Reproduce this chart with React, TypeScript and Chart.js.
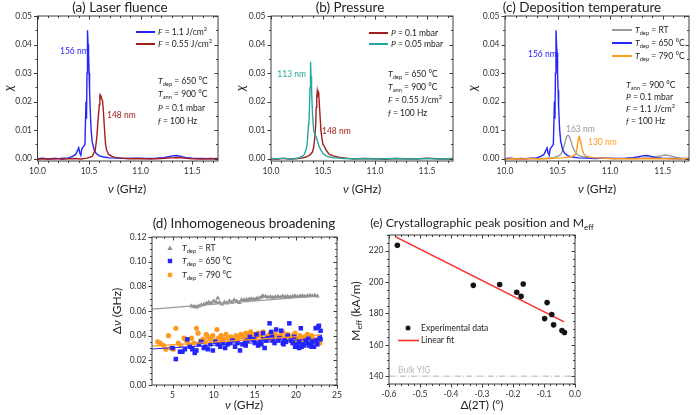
import React, { useEffect, useRef } from "react";
import { Chart, registerables } from "chart.js";
Chart.register(...registerables);

const W = 697;
const H = 415;
const FONT = "Lato, 'Open Sans', 'DejaVu Sans', sans-serif";
Chart.defaults.font.family = FONT;

// ---------------- DATA ----------------
// (a) Laser fluence — F = 1.1 J/cm² (also T_dep = 650 °C in (c))
const nuF11 = [10.0, 10.05, 10.1, 10.15, 10.2, 10.25, 10.3, 10.34, 10.37, 10.39, 10.4, 10.41, 10.42, 10.43, 10.44, 10.45, 10.46, 10.47, 10.475, 10.48, 10.485, 10.49, 10.495, 10.5, 10.505, 10.51, 10.52, 10.53, 10.55, 10.57, 10.6, 10.64, 10.7, 10.78, 10.86, 10.95, 11.05, 11.15, 11.22, 11.27, 11.31, 11.35, 11.39, 11.44, 11.5, 11.58, 11.66, 11.75];
const chiF11 = [0.0, 0.0002, -0.0001, 0.0001, 0.0, 0.0002, 0.0003, 0.0008, 0.0015, 0.003, 0.0038, 0.002, 0.0012, 0.0035, 0.004, 0.0045, 0.005, 0.02, 0.014, 0.03, 0.045, 0.04, 0.037, 0.03, 0.024, 0.018, 0.01, 0.006, 0.003, 0.0018, 0.001, 0.0006, 0.0003, 0.0002, 0.0001, 0.0002, 0.0001, 0.0002, 0.0004, 0.0007, 0.001, 0.0011, 0.0008, 0.0004, 0.0002, 0.0001, 0.0, 0.0001];
// F = 0.55 J/cm²
const nuF055 = [10.0, 10.06, 10.12, 10.18, 10.24, 10.3, 10.36, 10.42, 10.48, 10.53, 10.56, 10.575, 10.59, 10.6, 10.605, 10.61, 10.615, 10.62, 10.63, 10.64, 10.65, 10.66, 10.67, 10.69, 10.72, 10.76, 10.82, 10.9, 11.0, 11.1, 11.2, 11.3, 11.36, 11.42, 11.5, 11.6, 11.68, 11.75];
const chiF055 = [-0.0002, 0.0, -0.0001, 0.0001, -0.0002, 0.0, 0.0001, -0.0001, 0.0002, 0.0008, 0.003, 0.0075, 0.015, 0.019, 0.0228, 0.0215, 0.0222, 0.021, 0.0205, 0.016, 0.01, 0.005, 0.003, 0.0015, 0.0008, 0.0004, 0.0002, 0.0, 0.0001, -0.0001, 0.0001, 0.0003, 0.0004, 0.0002, 0.0, -0.0001, 0.0001, -0.0002];

// (b) Pressure — P = 0.1 mbar
const nuP01 = [10.0, 10.06, 10.12, 10.18, 10.24, 10.29, 10.33, 10.36, 10.38, 10.4, 10.41, 10.42, 10.43, 10.435, 10.44, 10.445, 10.45, 10.455, 10.46, 10.47, 10.48, 10.49, 10.5, 10.51, 10.53, 10.56, 10.6, 10.65, 10.72, 10.8, 10.9, 11.0, 11.1, 11.2, 11.3, 11.4, 11.5, 11.6, 11.68, 11.75];
const chiP01 = [0.0, -0.0002, 0.0001, -0.0001, 0.0, 0.0002, 0.0005, 0.001, 0.0015, 0.0025, 0.004, 0.007, 0.012, 0.018, 0.0215, 0.0237, 0.0225, 0.0232, 0.022, 0.016, 0.01, 0.007, 0.005, 0.0045, 0.003, 0.0015, 0.001, 0.0005, 0.0002, -0.0001, 0.0001, 0.0, -0.0002, 0.0001, 0.0, -0.0001, 0.0002, 0.0, -0.0001, 0.0];
// P = 0.05 mbar
const nuP005 = [10.0, 10.06, 10.12, 10.18, 10.23, 10.27, 10.3, 10.32, 10.34, 10.35, 10.36, 10.365, 10.37, 10.375, 10.38, 10.385, 10.39, 10.4, 10.41, 10.42, 10.43, 10.44, 10.46, 10.48, 10.5, 10.53, 10.57, 10.62, 10.7, 10.8, 10.9, 11.0, 11.1, 11.2, 11.3, 11.4, 11.5, 11.6, 11.68, 11.75];
const chiP005 = [0.0001, 0.0, 0.0002, -0.0001, 0.0001, 0.0003, 0.0008, 0.0015, 0.0035, 0.006, 0.012, 0.013, 0.018, 0.025, 0.034, 0.029, 0.024, 0.015, 0.01, 0.0085, 0.008, 0.007, 0.0045, 0.003, 0.0018, 0.001, 0.0005, 0.0003, 0.0001, 0.0, 0.0001, -0.0001, 0.0, 0.0001, -0.0001, 0.0, 0.0001, -0.0001, 0.0, 0.0001];

// (c) Deposition temperature — T_dep = RT
const nuRT = [10.0, 10.08, 10.16, 10.24, 10.32, 10.4, 10.46, 10.5, 10.53, 10.55, 10.57, 10.58, 10.59, 10.6, 10.61, 10.62, 10.63, 10.64, 10.66, 10.68, 10.7, 10.73, 10.77, 10.82, 10.9, 11.0, 11.1, 11.2, 11.3, 11.38, 11.44, 11.49, 11.53, 11.57, 11.62, 11.68, 11.75];
const chiRT = [0.0, 0.0001, 0.0, 0.0001, 0.0001, 0.0002, 0.0004, 0.0008, 0.0015, 0.003, 0.0055, 0.007, 0.008, 0.0082, 0.0079, 0.007, 0.0058, 0.0045, 0.0028, 0.0018, 0.0012, 0.0008, 0.0005, 0.0003, 0.0002, 0.0001, 0.0001, 0.0002, 0.0002, 0.0004, 0.0007, 0.0011, 0.0013, 0.001, 0.0005, 0.0002, 0.0001];
// T_dep = 790 °C
const nuT790 = [10.0, 10.08, 10.16, 10.24, 10.32, 10.4, 10.48, 10.55, 10.6, 10.64, 10.67, 10.68, 10.69, 10.7, 10.705, 10.71, 10.72, 10.73, 10.74, 10.75, 10.77, 10.8, 10.85, 10.92, 11.0, 11.1, 11.2, 11.3, 11.4, 11.5, 11.6, 11.68, 11.75];
const chiT790 = [-0.0002, 0.0, -0.0001, 0.0001, -0.0001, 0.0, 0.0002, 0.0003, 0.0005, 0.0008, 0.0015, 0.0025, 0.005, 0.0072, 0.0077, 0.007, 0.006, 0.004, 0.0025, 0.0016, 0.001, 0.0006, 0.0003, 0.0002, 0.0001, 0.0, -0.0001, 0.0, 0.0001, 0.0, -0.0001, 0.0, 0.0001];

// (d) Inhomogeneous broadening
const nuDRT = [7.3, 7.6, 7.9, 8.2, 8.5, 8.8, 9.1, 9.4, 9.7, 10.0, 10.3, 10.5, 10.7, 11.0, 11.3, 11.6, 11.9, 12.2, 12.5, 12.8, 13.1, 13.4, 13.7, 14.0, 14.3, 14.6, 14.9, 15.2, 15.5, 15.8, 16.0, 16.3, 16.6, 16.9, 17.2, 17.5, 17.8, 18.1, 18.4, 18.7, 19.0, 19.3, 19.6, 19.9, 20.2, 20.5, 20.8, 21.1, 21.4, 21.7, 22.0, 22.3, 22.6];
const dnuDRT = [0.064, 0.0636, 0.0632, 0.064, 0.0648, 0.0652, 0.066, 0.067, 0.0665, 0.068, 0.0672, 0.0705, 0.0668, 0.0655, 0.067, 0.0665, 0.068, 0.067, 0.0688, 0.0678, 0.0668, 0.069, 0.0688, 0.0692, 0.0695, 0.0698, 0.0694, 0.07, 0.0705, 0.0712, 0.0722, 0.0718, 0.0712, 0.0716, 0.071, 0.0714, 0.0718, 0.0712, 0.072, 0.0716, 0.0718, 0.0714, 0.0718, 0.0722, 0.0716, 0.072, 0.0724, 0.0718, 0.0722, 0.0726, 0.0722, 0.0726, 0.072];
const nuD650 = [5.0, 5.4, 5.9, 6.2, 6.5, 6.8, 7.1, 7.4, 7.7, 7.9, 8.2, 8.5, 8.8, 9.0, 9.3, 9.6, 9.9, 10.2, 10.5, 10.8, 11.1, 11.4, 11.7, 12.0, 12.3, 12.6, 12.9, 13.2, 13.5, 13.8, 14.1, 14.4, 14.7, 15.0, 15.2, 15.4, 15.6, 15.8, 16.0, 16.2, 16.4, 16.6, 16.8, 17.0, 17.2, 17.4, 17.6, 17.8, 18.0, 18.2, 18.4, 18.6, 18.8, 19.0, 19.2, 19.4, 19.6, 19.8, 20.0, 20.2, 20.4, 20.6, 20.8, 21.0, 21.2, 21.4, 21.6, 21.8, 22.0, 22.2, 22.4, 22.6, 22.8, 23.0, 23.0, 22.9, 21.5, 20.7, 19.9, 18.5, 17.1, 16.0, 14.9, 13.9, 20.4, 21.9, 22.5, 22.7];
const dnuD650 = [0.03, 0.021, 0.027, 0.027, 0.029, 0.037, 0.031, 0.029, 0.026, 0.028, 0.033, 0.035, 0.03, 0.031, 0.029, 0.033, 0.028, 0.035, 0.033, 0.031, 0.034, 0.03, 0.033, 0.034, 0.036, 0.031, 0.034, 0.028, 0.033, 0.035, 0.036, 0.039, 0.037, 0.034, 0.041, 0.032, 0.035, 0.033, 0.037, 0.03, 0.036, 0.038, 0.05, 0.043, 0.036, 0.034, 0.045, 0.036, 0.038, 0.044, 0.034, 0.037, 0.035, 0.04, 0.05, 0.036, 0.034, 0.039, 0.033, 0.032, 0.035, 0.046, 0.033, 0.032, 0.036, 0.034, 0.032, 0.033, 0.035, 0.031, 0.046, 0.033, 0.048, 0.037, 0.044, 0.039, 0.038, 0.031, 0.031, 0.033, 0.039, 0.042, 0.037, 0.032, 0.03, 0.031, 0.036, 0.047];
const nuD790 = [3.2, 3.5, 3.9, 4.2, 4.5, 4.8, 5.1, 5.4, 5.7, 6.0, 6.4, 6.7, 7.0, 7.3, 7.6, 7.9, 8.1, 8.4, 8.7, 9.0, 9.3, 9.6, 9.9, 10.2, 10.4, 10.6, 10.9, 11.2, 11.5, 11.8, 12.1, 12.4, 12.7, 13.0, 13.3, 13.6, 13.9, 14.2, 14.5, 14.8, 15.1, 15.4, 15.7, 16.0, 16.3, 16.6, 16.9, 17.2, 17.5, 17.8, 18.1, 18.4, 18.7, 19.0, 19.3, 19.6, 19.9, 20.2, 20.5, 20.8, 21.1, 21.4, 21.7, 22.0, 22.3, 22.6, 22.9, 14.0, 15.0, 17.0, 18.8, 20.0, 21.9, 9.1, 11.0, 12.9];
const dnuD790 = [0.035, 0.034, 0.032, 0.029, 0.04, 0.03, 0.029, 0.046, 0.034, 0.032, 0.038, 0.036, 0.033, 0.038, 0.034, 0.046, 0.042, 0.036, 0.037, 0.035, 0.039, 0.037, 0.04, 0.036, 0.045, 0.038, 0.04, 0.037, 0.041, 0.038, 0.039, 0.037, 0.04, 0.038, 0.041, 0.039, 0.042, 0.04, 0.043, 0.041, 0.039, 0.042, 0.04, 0.043, 0.038, 0.04, 0.042, 0.039, 0.041, 0.038, 0.04, 0.043, 0.039, 0.041, 0.038, 0.04, 0.042, 0.038, 0.04, 0.037, 0.039, 0.041, 0.036, 0.038, 0.035, 0.037, 0.034, 0.038, 0.036, 0.037, 0.036, 0.036, 0.04, 0.041, 0.035, 0.036];
const fitNuRT = [2.5, 22.8];
const fitDnuRT = [0.0615, 0.0722];
const fitNu650 = [2.5, 23.0];
const fitDnu650 = [0.0292, 0.0375];
const fitNu790 = [2.5, 23.0];
const fitDnu790 = [0.0315, 0.0405];

// (e) Crystallographic peak position and M_eff
const d2T = [-0.573, -0.328, -0.243, -0.188, -0.174, -0.167, -0.09, -0.098, -0.075, -0.069, -0.042, -0.034];
const mEff = [223.4, 197.9, 198.4, 193.5, 190.9, 198.8, 186.9, 176.7, 179.3, 172.7, 169.1, 167.8];
const fitD2T = [-0.58, -0.035];
const fitMEff = [229.0, 174.6];
const bulkD2T = [-0.6, 0.0];
const bulkMEff = [140, 140];

// ---------------- STYLE ----------------
const BLUE = "#2424ff";
const DARKRED = "#a31d1d";
const TEAL = "#26a89e";
const GRAY = "#9a9a9a";
const ORANGE = "#ff9a1e";
const RED = "#ff2a2a";
const TXT = "#222";
const FRAME = "#3c3c3c";
const YW = 30;
const XH = 14;

const zip = (xs: number[], ys: number[]) => xs.map((x, i) => ({ x, y: ys[i] }));

type Seg = { t: string; it: boolean; mode: number };
function parseRich(s: string): Seg[] {
  const segs: Seg[] = [];
  let it = false;
  let buf = "";
  let i = 0;
  const flush = () => {
    if (buf) segs.push({ t: buf, it, mode: 0 });
    buf = "";
  };
  while (i < s.length) {
    const c = s[i];
    if (c === "*") {
      flush();
      it = !it;
      i++;
      continue;
    }
    if ((c === "_" || c === "^") && s[i + 1] === "{") {
      flush();
      const end = s.indexOf("}", i);
      segs.push({ t: s.slice(i + 2, end), it: false, mode: c === "_" ? 1 : 2 });
      i = end + 1;
      continue;
    }
    buf += c;
    i++;
  }
  flush();
  return segs;
}

type TextItem = { s: string; x: number; y: number; size?: number; color?: string; align?: string; rot?: number };
function drawRich(ctx: CanvasRenderingContext2D, t: TextItem) {
  const size = t.size ?? 8.5;
  const segs = parseRich(t.s);
  const fontFor = (g: Seg) => `${g.it ? "italic " : ""}${g.mode ? size * 0.68 : size}px ${FONT}`;
  let total = 0;
  const widths = segs.map((g) => {
    ctx.font = fontFor(g);
    const w = ctx.measureText(g.t).width;
    total += w;
    return w;
  });
  ctx.save();
  ctx.translate(t.x, t.y);
  if (t.rot) ctx.rotate(t.rot);
  let cx = t.align === "center" ? -total / 2 : t.align === "right" ? -total : 0;
  ctx.fillStyle = t.color ?? TXT;
  ctx.textBaseline = "middle";
  ctx.textAlign = "left";
  segs.forEach((g, k) => {
    ctx.font = fontFor(g);
    const dy = g.mode === 1 ? size * 0.32 : g.mode === 2 ? -size * 0.36 : 0;
    ctx.fillText(g.t, cx, dy);
    cx += widths[k];
  });
  ctx.restore();
}

type LegLine = { x1: number; x2: number; y: number; color: string; w?: number };
type LegMark = { x: number; y: number; color: string; shape: string; r: number };
type AxisSpec = { min: number; max: number; step: number; minor: number; dec: number };
type PanelSpec = {
  key: string;
  frame: { l: number; r: number; t: number; b: number };
  x: AxisSpec;
  y: AxisSpec;
  datasets: any[];
  texts: TextItem[];
  lines: LegLine[];
  marks: LegMark[];
};

function decor(p: PanelSpec) {
  return {
    id: "decor_" + p.key,
    afterDraw(chart: any) {
      const ctx: CanvasRenderingContext2D = chart.ctx;
      const { left, right, top, bottom } = chart.chartArea;
      const xs = chart.scales.x;
      const ys = chart.scales.y;
      ctx.save();
      ctx.strokeStyle = FRAME;
      ctx.lineWidth = 1;
      ctx.strokeRect(left, top, right - left, bottom - top);
      const seg = (x1: number, y1: number, x2: number, y2: number) => {
        ctx.beginPath();
        ctx.moveTo(x1, y1);
        ctx.lineTo(x2, y2);
        ctx.stroke();
      };
      const ticksFor = (a: AxisSpec, step: number) => {
        const out: number[] = [];
        const k0 = Math.ceil(a.min / step - 1e-6);
        const k1 = Math.floor(a.max / step + 1e-6);
        for (let k = k0; k <= k1; k++) out.push(k * step);
        return out;
      };
      [
        [p.x.step, 3.5],
        [p.x.minor, 2],
      ].forEach(([st, len]) => {
        ticksFor(p.x, st).forEach((v) => {
          const px = Math.round(xs.getPixelForValue(v)) + 0.5;
          seg(px, bottom, px, bottom + len);
          seg(px, top, px, top + len);
        });
      });
      [
        [p.y.step, 3.5],
        [p.y.minor, 2],
      ].forEach(([st, len]) => {
        ticksFor(p.y, st).forEach((v) => {
          const py = Math.round(ys.getPixelForValue(v)) + 0.5;
          seg(left - len, py, left, py);
          seg(right - len, py, right, py);
        });
      });
      p.lines.forEach((l) => {
        ctx.strokeStyle = l.color;
        ctx.lineWidth = l.w ?? 2;
        seg(l.x1, l.y, l.x2, l.y);
      });
      p.marks.forEach((m) => {
        ctx.fillStyle = m.color;
        ctx.beginPath();
        if (m.shape === "circle") {
          ctx.arc(m.x, m.y, m.r, 0, Math.PI * 2);
        } else if (m.shape === "rect") {
          ctx.rect(m.x - m.r, m.y - m.r, 2 * m.r, 2 * m.r);
        } else {
          ctx.moveTo(m.x, m.y - m.r);
          ctx.lineTo(m.x + m.r, m.y + m.r * 0.8);
          ctx.lineTo(m.x - m.r, m.y + m.r * 0.8);
          ctx.closePath();
        }
        ctx.fill();
      });
      p.texts.forEach((t) => drawRich(ctx, t));
      ctx.restore();
    },
  };
}

function axisOpts(a: AxisSpec, isX: boolean) {
  return {
    type: "linear",
    min: a.min,
    max: a.max,
    afterFit: (s: any) => {
      if (isX) s.height = XH;
      else s.width = YW;
    },
    grid: { display: true, drawOnChartArea: false, drawTicks: true, tickLength: 3.5, color: "rgba(0,0,0,0)" },
    border: { display: false },
    ticks: {
      stepSize: a.step,
      includeBounds: false,
      autoSkip: false,
      maxRotation: 0,
      padding: 2,
      color: "#333",
      font: { family: FONT, size: 8.5 },
      callback: (v: any) => Number(v).toFixed(a.dec),
    },
  };
}

function buildConfig(p: PanelSpec): any {
  const f = p.frame;
  return {
    type: "scatter",
    data: { datasets: p.datasets },
    options: {
      responsive: false,
      animation: false,
      devicePixelRatio: 1,
      events: [],
      layout: { padding: { left: f.l - YW, right: W - f.r, top: f.t, bottom: H - f.b - XH } },
      plugins: { legend: { display: false }, title: { display: false }, tooltip: { enabled: false } },
      scales: { x: axisOpts(p.x, true), y: axisOpts(p.y, false) },
    },
    plugins: [decor(p)],
  };
}

const lineDs = (xs: number[], ys: number[], color: string, w = 1.3, order = 0, dash: number[] = []) => ({
  data: zip(xs, ys),
  showLine: true,
  borderColor: color,
  borderWidth: w,
  borderDash: dash,
  pointRadius: 0,
  order,
});
const ptDs = (xs: number[], ys: number[], color: string, style: string, r: number, order = 0) => ({
  data: zip(xs, ys),
  showLine: false,
  pointStyle: style,
  pointRadius: r,
  backgroundColor: color,
  borderColor: color,
  borderWidth: 0,
  order,
});

const specAxis: AxisSpec = { min: 10.0, max: 11.75, step: 0.5, minor: 0.1, dec: 1 };
const chiAxis: AxisSpec = { min: -0.0008, max: 0.05, step: 0.01, minor: 0.005, dec: 2 };
const HALF_PI = -Math.PI / 2;
const TS = 13.5;

const panels: PanelSpec[] = [
  {
    key: "a",
    frame: { l: 37.5, r: 218, t: 16, b: 161 },
    x: specAxis,
    y: chiAxis,
    datasets: [lineDs(nuF11, chiF11, BLUE, 1.4, 1), lineDs(nuF055, chiF055, DARKRED, 1.4, 0)],
    texts: [
      { s: "(a) Laser fluence", x: 120, y: 8, size: TS, align: "center" },
      { s: "*χ*", x: 9, y: 88, size: 13, align: "center", rot: HALF_PI },
      { s: "*ν* (GHz)", x: 127, y: 189, size: 12, align: "center" },
      { s: "*F* = 1.1 J/cm^{2}", x: 158, y: 32 },
      { s: "*F* = 0.55 J/cm^{2}", x: 158, y: 44 },
      { s: "156 nm", x: 60, y: 51, color: BLUE },
      { s: "148 nm", x: 107, y: 115, color: DARKRED },
      { s: "*T*_{dep} = 650 °C", x: 158, y: 81 },
      { s: "*T*_{ann} = 900 °C", x: 158, y: 94 },
      { s: "*P* = 0.1 mbar", x: 158, y: 108 },
      { s: "*f* = 100 Hz", x: 158, y: 121 },
    ],
    lines: [
      { x1: 136, x2: 155, y: 32, color: BLUE },
      { x1: 136, x2: 155, y: 44, color: DARKRED },
    ],
    marks: [],
  },
  {
    key: "b",
    frame: { l: 271, r: 453, t: 16, b: 161 },
    x: specAxis,
    y: chiAxis,
    datasets: [lineDs(nuP01, chiP01, DARKRED, 1.4, 1), lineDs(nuP005, chiP005, TEAL, 1.4, 0)],
    texts: [
      { s: "(b) Pressure", x: 350, y: 8, size: TS, align: "center" },
      { s: "*χ*", x: 241, y: 88, size: 13, align: "center", rot: HALF_PI },
      { s: "*ν* (GHz)", x: 362, y: 189, size: 12, align: "center" },
      { s: "*P* = 0.1 mbar", x: 391, y: 33 },
      { s: "*P* = 0.05 mbar", x: 391, y: 44 },
      { s: "113 nm", x: 306, y: 74, color: TEAL, align: "right" },
      { s: "148 nm", x: 322, y: 131, color: DARKRED },
      { s: "*T*_{dep} = 650 °C", x: 388, y: 74 },
      { s: "*T*_{ann} = 900 °C", x: 388, y: 87 },
      { s: "*F* = 0.55 J/cm^{2}", x: 388, y: 100 },
      { s: "*f* = 100 Hz", x: 388, y: 113 },
    ],
    lines: [
      { x1: 369, x2: 388, y: 33, color: DARKRED },
      { x1: 369, x2: 388, y: 44, color: TEAL },
    ],
    marks: [],
  },
  {
    key: "c",
    frame: { l: 505, r: 689, t: 16, b: 161 },
    x: specAxis,
    y: chiAxis,
    datasets: [
      lineDs(nuRT, chiRT, GRAY, 1.4, 2),
      lineDs(nuF11, chiF11, BLUE, 1.4, 1),
      lineDs(nuT790, chiT790, ORANGE, 1.4, 0),
    ],
    texts: [
      { s: "(c) Deposition temperature", x: 582, y: 8, size: TS, align: "center" },
      { s: "*χ*", x: 473, y: 88, size: 13, align: "center", rot: HALF_PI },
      { s: "*ν* (GHz)", x: 597, y: 189, size: 12, align: "center" },
      { s: "*T*_{dep} = RT", x: 635, y: 30 },
      { s: "*T*_{dep} = 650 °C", x: 635, y: 43 },
      { s: "*T*_{dep} = 790 °C", x: 635, y: 56 },
      { s: "156 nm", x: 528, y: 54, color: BLUE },
      { s: "163 nm", x: 566, y: 129, color: GRAY },
      { s: "130 nm", x: 588, y: 142, color: ORANGE },
      { s: "*T*_{ann} = 900 °C", x: 626, y: 85 },
      { s: "*P* = 0.1 mbar", x: 626, y: 97 },
      { s: "*F* = 1.1 J/cm^{2}", x: 626, y: 109 },
      { s: "*f* = 100 Hz", x: 626, y: 121 },
    ],
    lines: [
      { x1: 612, x2: 632, y: 30, color: GRAY },
      { x1: 612, x2: 632, y: 43, color: BLUE },
      { x1: 612, x2: 632, y: 56, color: ORANGE },
    ],
    marks: [],
  },
  {
    key: "d",
    frame: { l: 152, r: 337, t: 237, b: 385 },
    x: { min: 2.5, max: 25, step: 5, minor: 1, dec: 0 },
    y: { min: 0, max: 0.12, step: 0.02, minor: 0.005, dec: 2 },
    datasets: [
      lineDs(fitNuRT, fitDnuRT, GRAY, 1.2, 0),
      lineDs(fitNu650, fitDnu650, BLUE, 1.2, 0),
      lineDs(fitNu790, fitDnu790, ORANGE, 1.2, 0),
      ptDs(nuDRT, dnuDRT, "#8e8e8e", "triangle", 2.8, 3),
      ptDs(nuD790, dnuD790, ORANGE, "circle", 2.6, 2),
      ptDs(nuD650, dnuD650, BLUE, "rect", 3.2, 1),
    ],
    texts: [
      { s: "(d) Inhomogeneous broadening", x: 244, y: 224, size: TS, align: "center" },
      { s: "Δ*ν* (GHz)", x: 117, y: 311, size: 12, align: "center", rot: HALF_PI },
      { s: "*ν* (GHz)", x: 244, y: 405, size: 12, align: "center" },
      { s: "*T*_{dep} = RT", x: 182, y: 248 },
      { s: "*T*_{dep} = 650 °C", x: 182, y: 261 },
      { s: "*T*_{dep} = 790 °C", x: 182, y: 275 },
    ],
    lines: [],
    marks: [
      { x: 170, y: 248, color: "#8e8e8e", shape: "triangle", r: 2.6 },
      { x: 170, y: 261, color: BLUE, shape: "rect", r: 2.2 },
      { x: 170, y: 275, color: ORANGE, shape: "circle", r: 2.4 },
    ],
  },
  {
    key: "e",
    frame: { l: 389, r: 575, t: 235, b: 384 },
    x: { min: -0.6, max: 0, step: 0.1, minor: 0.02, dec: 1 },
    y: { min: 135, max: 230, step: 20, minor: 5, dec: 0 },
    datasets: [
      lineDs(bulkD2T, bulkMEff, "#b0b0b0", 1, 2, [6, 2, 1, 2]),
      lineDs(fitD2T, fitMEff, RED, 1.5, 1),
      ptDs(d2T, mEff, "#151515", "circle", 2.8, 0),
    ],
    texts: [
      { s: "(e) Crystallographic peak position and M_{eff}", x: 482, y: 223, size: 12.2, align: "center" },
      { s: "M_{eff} (kA/m)", x: 356, y: 311, size: 12, align: "center", rot: HALF_PI },
      { s: "Δ(2T) (°)", x: 482, y: 405, size: 12, align: "center" },
      { s: "Experimental data", x: 421, y: 328 },
      { s: "Linear fit", x: 421, y: 340.5 },
      { s: "Bulk YIG", x: 398, y: 370, color: "#b8b8b8" },
    ],
    lines: [{ x1: 398, x2: 419, y: 340.5, color: RED, w: 1.6 }],
    marks: [{ x: 408, y: 328, color: "#151515", shape: "circle", r: 2.5 }],
  },
];

function PanelChart({ spec }: { spec: PanelSpec }) {
  const ref = useRef<HTMLCanvasElement>(null);
  useEffect(() => {
    const chart = new Chart(ref.current as HTMLCanvasElement, buildConfig(spec));
    return () => chart.destroy();
  }, [spec]);
  return (
    <canvas
      ref={ref}
      width={W}
      height={H}
      style={{ position: "absolute", left: 0, top: 0, width: W, height: H }}
    />
  );
}

export default function App() {
  return (
    <div style={{ position: "fixed", left: 0, top: 0, width: W, height: H, background: "#fff", overflow: "hidden" }}>
      {panels.map((p) => (
        <PanelChart key={p.key} spec={p} />
      ))}
    </div>
  );
}
